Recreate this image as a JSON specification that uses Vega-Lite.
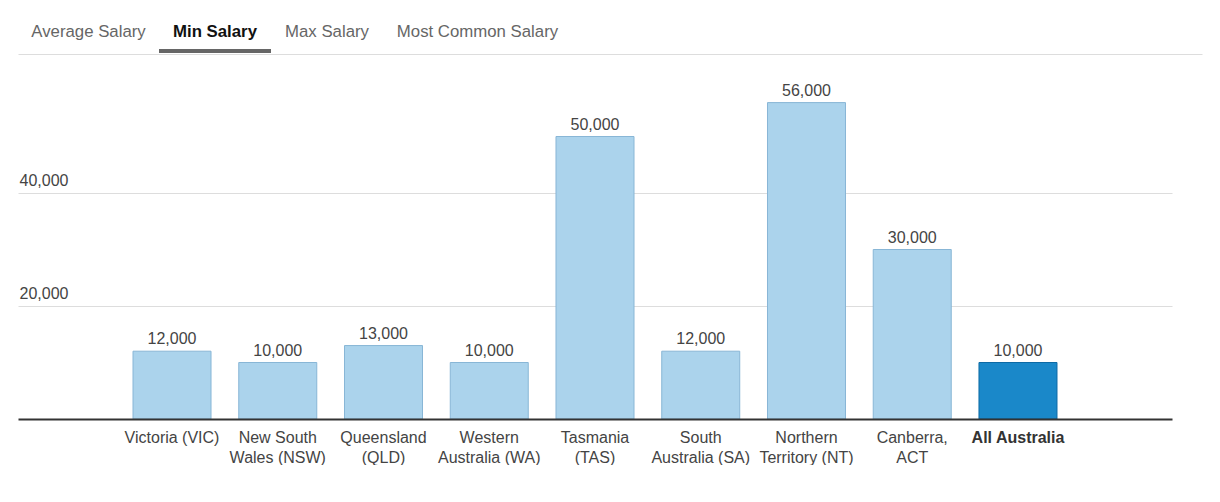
{
  "$schema": "https://vega.github.io/schema/vega-lite/v6.json",
  "padding": {"left": 18, "right": 18, "top": 23, "bottom": 0},
  "background": "white",
  "config": {
    "view": {"stroke": null},
    "font": "Liberation Sans",
    "axis": {"labelFont": "Liberation Sans", "tickSize": 0}
  },
  "datasets": {
    "tabs": [
      {"tab": "Average Salary", "selected": false},
      {"tab": "Min Salary", "selected": true},
      {"tab": "Max Salary", "selected": false},
      {"tab": "Most Common Salary", "selected": false}
    ],
    "salary": [
      {"region": "Victoria (VIC)", "min_salary": 12000, "group": "region"},
      {"region": "New South\nWales (NSW)", "min_salary": 10000, "group": "region"},
      {"region": "Queensland\n(QLD)", "min_salary": 13000, "group": "region"},
      {"region": "Western\nAustralia (WA)", "min_salary": 10000, "group": "region"},
      {"region": "Tasmania\n(TAS)", "min_salary": 50000, "group": "region"},
      {"region": "South\nAustralia (SA)", "min_salary": 12000, "group": "region"},
      {"region": "Northern\nTerritory (NT)", "min_salary": 56000, "group": "region"},
      {"region": "Canberra,\nACT", "min_salary": 30000, "group": "region"},
      {"region": "All Australia", "min_salary": 10000, "group": "national"}
    ]
  },
  "vconcat": [
    {
      "vconcat": [
        {
          "hconcat": [
            {
              "width": 141, "height": 4,
              "data": {"name": "tabs"},
              "transform": [{"filter": "datum.tab === 'Average Salary'"}],
              "mark": {"type": "bar"},
              "encoding": {
                "x": {"field": "tab", "type": "nominal", "scale": {"paddingInner": 0, "paddingOuter": 0},
                  "axis": {"orient": "top", "title": null, "domain": false, "ticks": false, "labelAngle": 0, "labelPadding": 13, "labelBaseline": "alphabetic", "labelFontSize": 16.8, "labelColor": "#666666"}},
                "color": {"condition": {"test": "datum.selected", "value": "#666666"}, "value": "transparent"}
              }
            },
            {
              "width": 112, "height": 4,
              "data": {"name": "tabs"},
              "transform": [{"filter": "datum.tab === 'Min Salary'"}],
              "mark": {"type": "bar"},
              "encoding": {
                "x": {"field": "tab", "type": "nominal", "scale": {"paddingInner": 0, "paddingOuter": 0},
                  "axis": {"orient": "top", "title": null, "domain": false, "ticks": false, "labelAngle": 0, "labelPadding": 13, "labelBaseline": "alphabetic", "labelFontSize": 16.8, "labelColor": "#111111", "labelFontWeight": "bold"}},
                "color": {"condition": {"test": "datum.selected", "value": "#666666"}, "value": "transparent"}
              }
            },
            {
              "width": 112, "height": 4,
              "data": {"name": "tabs"},
              "transform": [{"filter": "datum.tab === 'Max Salary'"}],
              "mark": {"type": "bar"},
              "encoding": {
                "x": {"field": "tab", "type": "nominal", "scale": {"paddingInner": 0, "paddingOuter": 0},
                  "axis": {"orient": "top", "title": null, "domain": false, "ticks": false, "labelAngle": 0, "labelPadding": 13, "labelBaseline": "alphabetic", "labelFontSize": 16.8, "labelColor": "#666666"}},
                "color": {"condition": {"test": "datum.selected", "value": "#666666"}, "value": "transparent"}
              }
            },
            {
              "width": 189, "height": 4,
              "data": {"name": "tabs"},
              "transform": [{"filter": "datum.tab === 'Most Common Salary'"}],
              "mark": {"type": "bar"},
              "encoding": {
                "x": {"field": "tab", "type": "nominal", "scale": {"paddingInner": 0, "paddingOuter": 0},
                  "axis": {"orient": "top", "title": null, "domain": false, "ticks": false, "labelAngle": 0, "labelPadding": 13, "labelBaseline": "alphabetic", "labelFontSize": 16.8, "labelColor": "#666666"}},
                "color": {"condition": {"test": "datum.selected", "value": "#666666"}, "value": "transparent"}
              }
            }
          ],
          "spacing": 0
        },
        {
          "width": 1184,
          "height": 1,
          "data": {"name": "tabs"},
          "mark": {"type": "bar", "opacity": 0},
          "encoding": {
            "x": {
              "field": "tab",
              "type": "nominal",
              "sort": null,
              "axis": {
                "orient": "top",
                "title": null,
                "labels": false,
                "ticks": false,
                "domain": true,
                "domainColor": "#dddddd",
                "domainWidth": 1
              }
            }
          }
        }
      ],
      "spacing": 1
    },
    {
      "width": 1154,
      "height": 339,
      "data": {"name": "salary"},
      "encoding": {
        "x": {
          "field": "region",
          "type": "nominal",
          "sort": null,
          "scale": {"paddingInner": 0.087, "paddingOuter": 1},
          "axis": {
            "title": null,
            "labelAngle": 0,
            "ticks": false,
            "domainColor": "#333333",
            "domainWidth": 2,
            "labelPadding": 10,
            "labelBaseline": "top",
            "labelFontSize": 16,
            "labelLineHeight": 20,
            "labelOverlap": false,
            "labelLimit": 300,
            "labelExpr": "split(datum.label, '\\n')",
            "labelColor": {"condition": {"test": "datum.value === 'All Australia'", "value": "#333333"}, "value": "#444444"},
            "labelFontWeight": {"condition": {"test": "datum.value === 'All Australia'", "value": "bold"}, "value": "normal"},
            "zindex": 1
          }
        },
        "y": {
          "field": "min_salary",
          "type": "quantitative",
          "scale": {"domain": [0, 60000]},
          "axis": {
            "title": null,
            "values": [20000, 40000],
            "grid": true,
            "gridColor": "#dddddd",
            "domain": false,
            "ticks": false,
            "labelAlign": "left",
            "labelBaseline": "alphabetic",
            "labelPadding": -1,
            "labelOffset": -8,
            "labelFontSize": 16,
            "labelColor": "#444444",
            "labelExpr": "format(datum.value, ',')"
          }
        }
      },
      "layer": [
        {
          "mark": {"type": "bar", "strokeWidth": 1, "width": {"band": 0.808}},
          "encoding": {
            "color": {
              "field": "group",
              "type": "nominal",
              "scale": {"domain": ["region", "national"], "range": ["#abd3ec", "#1a88c9"]},
              "legend": null
            },
            "stroke": {
              "field": "group",
              "type": "nominal",
              "scale": {"domain": ["region", "national"], "range": ["#88b6d6", "#0d6aa5"]},
              "legend": null
            }
          }
        },
        {
          "mark": {"type": "text", "dy": -7, "baseline": "alphabetic", "fontSize": 16, "color": "#444444"},
          "encoding": {
            "text": {"field": "min_salary", "type": "quantitative", "format": ","}
          }
        }
      ]
    }
  ],
  "spacing": 25
}
